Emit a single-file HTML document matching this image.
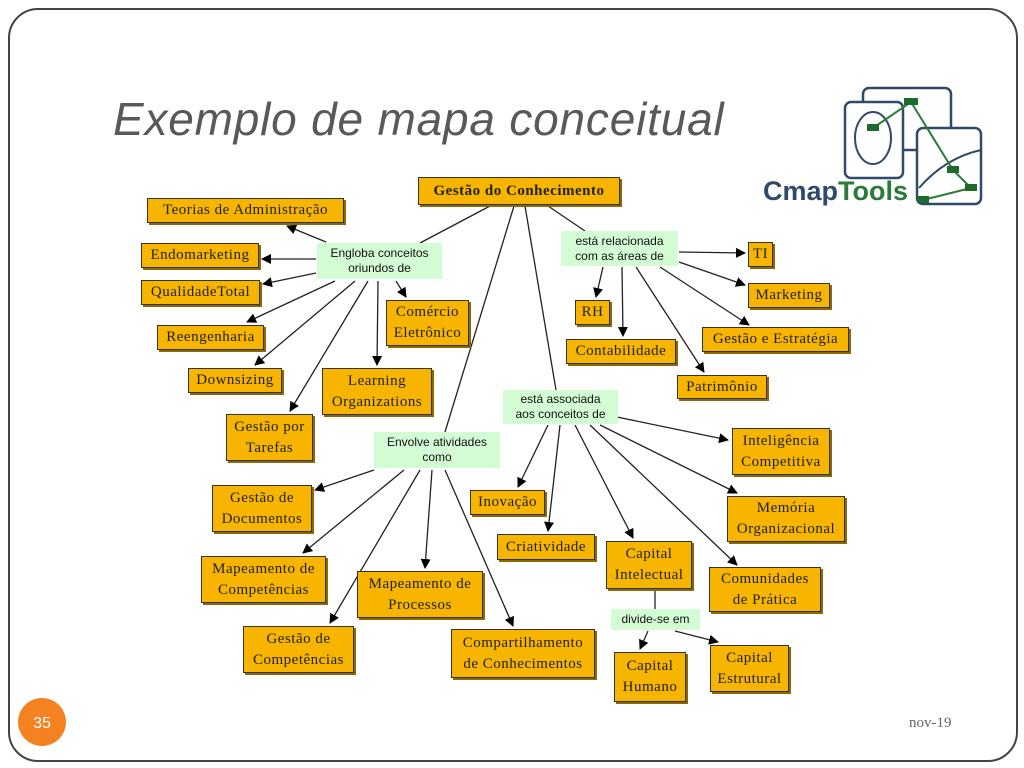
<!DOCTYPE html>
<html><head><meta charset="utf-8"><style>
body{margin:0;width:1024px;height:768px;background:#fff;overflow:hidden;font-family:"Liberation Sans",sans-serif}
.frame{position:absolute;left:8px;top:8px;width:1006px;height:750px;border:2px solid #444;border-radius:30px}
.t{position:absolute;left:113px;top:92px;font-size:46px;letter-spacing:0.8px;font-style:italic;color:#595959}
.b{position:absolute;background:#f7b500;border:1.5px solid #333;box-shadow:2px 2px 0 #8a6a00;font-family:"Liberation Serif",serif;font-size:15px;color:#222;text-align:center;line-height:21px;display:flex;align-items:center;justify-content:center;box-sizing:border-box;letter-spacing:0.5px}
.g{position:absolute;background:#d4fcd4;font-size:12px;color:#111;text-align:center;line-height:15px;display:flex;align-items:center;justify-content:center;box-sizing:border-box}
</style></head><body>
<div class="frame"></div>
<div class="t">Exemplo de mapa conceitual</div>
<svg style="position:absolute;left:0;top:0" width="1024" height="768">
<defs><marker id="a" markerWidth="10" markerHeight="10" refX="9" refY="5" orient="auto" markerUnits="userSpaceOnUse"><path d="M0,0L10,5L0,10z" fill="#000"/></marker></defs>
<g stroke="#222" stroke-width="1.3" fill="none">
<line x1="490" y1="206" x2="420" y2="243"/>
<line x1="514" y1="206" x2="445" y2="432"/>
<line x1="525" y1="206" x2="556" y2="390"/>
<line x1="548" y1="206" x2="585" y2="231"/>
<line x1="655" y1="590" x2="655" y2="609"/>
</g>
<g stroke="#222" stroke-width="1.3" marker-end="url(#a)">
<line x1="326" y1="242" x2="287" y2="226"/>
<line x1="316" y1="259" x2="262" y2="259"/>
<line x1="316" y1="273" x2="263" y2="284"/>
<line x1="335" y1="281" x2="247" y2="322"/>
<line x1="355" y1="281" x2="255" y2="365"/>
<line x1="368" y1="281" x2="290" y2="411"/>
<line x1="378" y1="281" x2="377" y2="365"/>
<line x1="396" y1="281" x2="406" y2="297"/>
<line x1="679" y1="252" x2="745" y2="253"/>
<line x1="679" y1="262" x2="745" y2="285"/>
<line x1="660" y1="267" x2="749" y2="325"/>
<line x1="603" y1="267" x2="596" y2="297"/>
<line x1="622" y1="267" x2="623" y2="336"/>
<line x1="636" y1="267" x2="704" y2="372"/>
<line x1="612" y1="416" x2="728" y2="440"/>
<line x1="600" y1="425" x2="737" y2="493"/>
<line x1="590" y1="425" x2="737" y2="565"/>
<line x1="575" y1="425" x2="633" y2="538"/>
<line x1="560" y1="425" x2="548" y2="531"/>
<line x1="548" y1="425" x2="518" y2="487"/>
<line x1="374" y1="470" x2="315" y2="490"/>
<line x1="404" y1="470" x2="303" y2="553"/>
<line x1="420" y1="470" x2="330" y2="623"/>
<line x1="432" y1="470" x2="425" y2="568"/>
<line x1="445" y1="470" x2="513" y2="626"/>
<line x1="648" y1="631" x2="640" y2="649"/>
<line x1="675" y1="631" x2="718" y2="642"/>
</g>
<g transform="translate(845,88)">
<rect x="18" y="0" width="88" height="62" rx="6" fill="#fff" stroke="#2f4a6a" stroke-width="2.5"/>
<rect x="0" y="14" width="58" height="76" rx="6" fill="#fff" stroke="#2f4a6a" stroke-width="2.5"/>
<ellipse cx="28" cy="50" rx="18" ry="26" fill="none" stroke="#2f4a6a" stroke-width="2"/>
<rect x="72" y="40" width="64" height="76" rx="6" fill="#fff" stroke="#2f4a6a" stroke-width="2.5"/>
<path d="M74,100 Q100,70 136,62" fill="none" stroke="#2f4a6a" stroke-width="2"/>
<polyline points="28,40 66,14 108,82 126,100 78,112" fill="none" stroke="#2a7a3a" stroke-width="2"/>
<g fill="#1d6a2d"><rect x="22" y="36" width="12" height="7"/><rect x="59" y="10" width="14" height="7"/><rect x="102" y="78" width="12" height="7"/><rect x="120" y="96" width="12" height="7"/><rect x="72" y="108" width="12" height="7"/></g>
<text x="-82" y="112" font-family="Liberation Sans,sans-serif" font-size="27" font-weight="bold" fill="#2f4a6a">Cmap<tspan fill="#2a7a3a">Tools</tspan></text>
</g>
<circle cx="42" cy="722" r="24" fill="#f58220"/>
<text x="42" y="728" font-size="16" fill="#fff" text-anchor="middle" font-family="Liberation Sans,sans-serif">35</text>
<text x="909" y="727" font-size="15" fill="#666" font-family="Liberation Serif,serif">nov-19</text>
</svg>
<div class="b" style="left:418px;top:177px;width:202px;height:28px;font-weight:bold">Gestão do Conhecimento</div>
<div class="b" style="left:147px;top:198px;width:197px;height:25px">Teorias de Administração</div>
<div class="b" style="left:141px;top:243px;width:118px;height:25px">Endomarketing</div>
<div class="b" style="left:141px;top:280px;width:119px;height:25px">QualidadeTotal</div>
<div class="b" style="left:157px;top:325px;width:107px;height:25px">Reengenharia</div>
<div class="b" style="left:188px;top:368px;width:94px;height:25px">Downsizing</div>
<div class="b" style="left:226px;top:414px;width:87px;height:47px">Gestão por<br>Tarefas</div>
<div class="b" style="left:322px;top:368px;width:110px;height:47px">Learning<br>Organizations</div>
<div class="b" style="left:386px;top:300px;width:83px;height:46px">Comércio<br>Eletrônico</div>
<div class="g" style="left:317px;top:243px;width:125px;height:36px">Engloba conceitos<br>oriundos de</div>
<div class="g" style="left:561px;top:231px;width:117px;height:35px">está relacionada<br>com as áreas de</div>
<div class="b" style="left:748px;top:242px;width:25px;height:25px">TI</div>
<div class="b" style="left:748px;top:283px;width:82px;height:25px">Marketing</div>
<div class="b" style="left:575px;top:300px;width:35px;height:25px">RH</div>
<div class="b" style="left:566px;top:339px;width:110px;height:25px">Contabilidade</div>
<div class="b" style="left:702px;top:327px;width:147px;height:25px">Gestão e Estratégia</div>
<div class="b" style="left:677px;top:375px;width:90px;height:24px">Patrimônio</div>
<div class="g" style="left:503px;top:390px;width:115px;height:34px">está associada<br>aos conceitos de</div>
<div class="b" style="left:732px;top:428px;width:98px;height:47px">Inteligência<br>Competitiva</div>
<div class="g" style="left:374px;top:432px;width:126px;height:36px">Envolve atividades<br>como</div>
<div class="b" style="left:727px;top:496px;width:118px;height:46px">Memória<br>Organizacional</div>
<div class="b" style="left:470px;top:490px;width:75px;height:25px">Inovação</div>
<div class="b" style="left:497px;top:534px;width:98px;height:26px">Criatividade</div>
<div class="b" style="left:606px;top:541px;width:86px;height:48px">Capital<br>Intelectual</div>
<div class="b" style="left:709px;top:567px;width:112px;height:45px">Comunidades<br>de Prática</div>
<div class="g" style="left:611px;top:609px;width:89px;height:21px">divide-se em</div>
<div class="b" style="left:614px;top:652px;width:72px;height:50px">Capital<br>Humano</div>
<div class="b" style="left:710px;top:645px;width:79px;height:47px">Capital<br>Estrutural</div>
<div class="b" style="left:212px;top:485px;width:100px;height:47px">Gestão de<br>Documentos</div>
<div class="b" style="left:201px;top:556px;width:125px;height:47px">Mapeamento de<br>Competências</div>
<div class="b" style="left:357px;top:571px;width:126px;height:47px">Mapeamento de<br>Processos</div>
<div class="b" style="left:243px;top:626px;width:111px;height:47px">Gestão de<br>Competências</div>
<div class="b" style="left:451px;top:629px;width:144px;height:49px">Compartilhamento<br>de Conhecimentos</div>
</body></html>
